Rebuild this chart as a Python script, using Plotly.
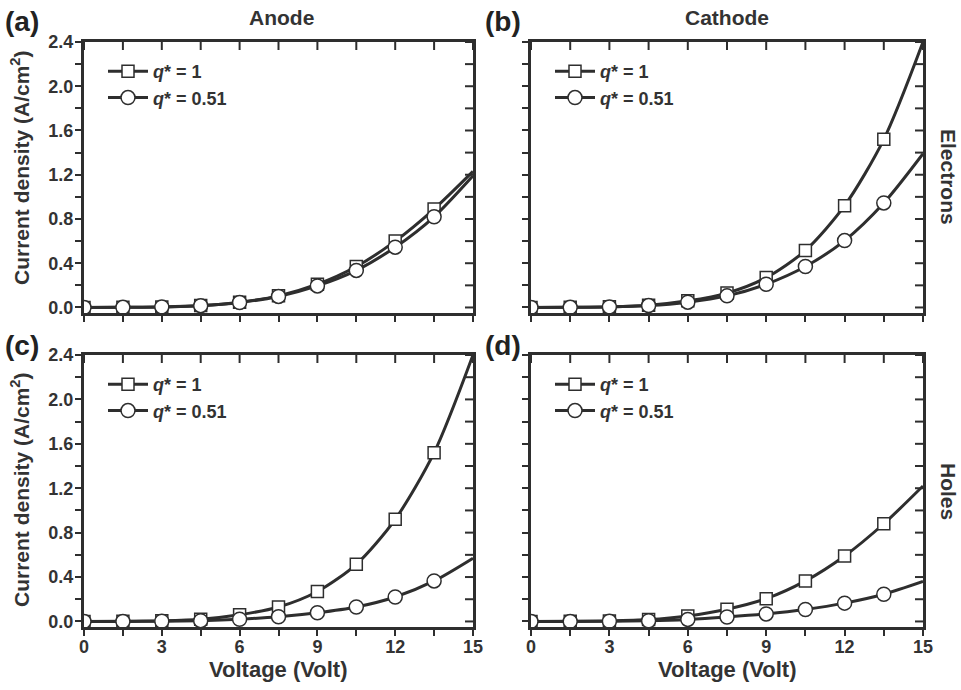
import plotly.graph_objects as go

# ---------------- data ----------------
voltage = [0, 1.5, 3, 4.5, 6, 7.5, 9, 10.5, 12, 13.5, 15]
n_markers = 10  # markers drawn at 0 ... 13.5

anode_electrons_q1 = [0, 0.001, 0.005, 0.017, 0.048, 0.105, 0.21, 0.37, 0.60, 0.89, 1.23]
anode_electrons_q051 = [0, 0.001, 0.005, 0.016, 0.045, 0.10, 0.195, 0.335, 0.545, 0.82, 1.19]
cathode_electrons_q1 = [0, 0.001, 0.006, 0.020, 0.060, 0.13, 0.27, 0.515, 0.92, 1.52, 2.40]
cathode_electrons_q051 = [0, 0.001, 0.005, 0.017, 0.048, 0.105, 0.21, 0.37, 0.605, 0.945, 1.39]
anode_holes_q1 = [0, 0.001, 0.006, 0.020, 0.060, 0.13, 0.27, 0.515, 0.92, 1.52, 2.40]
anode_holes_q051 = [0, 0.0, 0.002, 0.007, 0.020, 0.042, 0.078, 0.13, 0.22, 0.365, 0.57]
cathode_holes_q1 = [0, 0.001, 0.005, 0.017, 0.050, 0.11, 0.205, 0.365, 0.59, 0.88, 1.22]
cathode_holes_q051 = [0, 0.0, 0.002, 0.006, 0.018, 0.040, 0.068, 0.108, 0.165, 0.245, 0.36]

series_names = ["<i>q</i>* = 1", "<i>q</i>* = 0.51"]
panel_labels = ["(a)", "(b)", "(c)", "(d)"]
column_titles = ["Anode", "Cathode"]
row_titles = ["Electrons", "Holes"]
x_title = "Voltage (Volt)"
y_title = "Current density (A/cm<sup>2</sup>)"
x_ticks = [0, 3, 6, 9, 12, 15]
x_minor_ticks = [0, 1.5, 3, 4.5, 6, 7.5, 9, 10.5, 12, 13.5, 15]
y_ticks = [0.0, 0.4, 0.8, 1.2, 1.6, 2.0, 2.4]
y_minor_ticks = [0.0, 0.2, 0.4, 0.6, 0.8, 1.0, 1.2, 1.4, 1.6, 1.8, 2.0, 2.2, 2.4]
x_range = [0, 15]
y_range = [-0.05, 2.4]

panels = [
    (anode_electrons_q1, anode_electrons_q051),
    (cathode_electrons_q1, cathode_electrons_q051),
    (anode_holes_q1, anode_holes_q051),
    (cathode_holes_q1, cathode_holes_q051),
]

# ---------------- layout geometry (page pixels) ----------------
W, H = 961, 690
col_px = [(84, 473), (531, 923)]
row_px = [(42, 313), (355, 627)]

def px_x(p):
    return p / W

def px_y(p):
    return 1 - p / H

INK = "#333333"
LINE = "#2e2e2e"
FONT = "Liberation Sans"
TICKLEN = 6
INNER_TICKLEN = 8

fig = go.Figure()

symbols = ["square", "circle"]
msizes = [12, 14]

for i, (s1, s2) in enumerate(panels):
    k = i + 1
    xs = "" if k == 1 else str(k)
    xa, ya = f"x{xs}", f"y{xs}"
    leg = f"legend{xs}"
    for j, ys in enumerate((s1, s2)):
        fig.add_trace(go.Scatter(
            x=voltage, y=ys, mode="lines", xaxis=xa, yaxis=ya,
            line=dict(color=LINE, width=3, shape="spline", smoothing=0.8),
            showlegend=False, hoverinfo="skip"))
        fig.add_trace(go.Scatter(
            x=voltage[:n_markers], y=ys[:n_markers], mode="markers", xaxis=xa, yaxis=ya,
            marker=dict(symbol=symbols[j], size=msizes[j], color="white",
                        line=dict(color=LINE, width=1.5)),
            showlegend=False))
    for j in range(2):
        fig.add_trace(go.Scatter(
            x=[None], y=[None], mode="lines+markers", xaxis=xa, yaxis=ya,
            name=series_names[j], legend=leg,
            line=dict(color=LINE, width=3),
            marker=dict(symbol=symbols[j], size=msizes[j], color="white",
                        line=dict(color=LINE, width=1.5))))

layout = dict(
    width=W, height=H,
    margin=dict(l=0, r=0, t=0, b=0),
    paper_bgcolor="white", plot_bgcolor="white",
    font=dict(family=FONT, color=INK, size=18, weight="bold"),
    showlegend=True,
)

tickfont = dict(family=FONT, color=INK, size=18, weight="bold")
shapes = []

for i in range(4):
    k = i + 1
    r, c = divmod(i, 2)
    xs = "" if k == 1 else str(k)
    x0, x1 = col_px[c]
    y0, y1 = row_px[r]
    layout[f"xaxis{xs}"] = dict(
        range=x_range, domain=[px_x(x0), px_x(x1)], showgrid=False, zeroline=False,
        automargin=False, fixedrange=True,
        anchor=f"y{xs}", showline=True, mirror=True, linewidth=3,
        linecolor=LINE, ticks="outside", tickmode="array", tickvals=x_ticks,
        ticklen=TICKLEN, tickwidth=2, tickcolor=LINE, ticklabelstandoff=-5,
        minor=dict(tickmode="array", tickvals=x_minor_ticks, ticks="outside",
                   ticklen=TICKLEN, tickwidth=2, tickcolor=LINE, showgrid=False),
        showticklabels=(r == 1), tickfont=tickfont)
    layout[f"yaxis{xs}"] = dict(
        range=y_range, domain=[px_y(y1), px_y(y0)], showgrid=False, zeroline=False,
        automargin=False, fixedrange=True,
        anchor=f"x{xs}", showline=True, mirror=True, linewidth=3,
        linecolor=LINE, ticks="outside", tickmode="array", tickvals=y_ticks,
        tickformat=".1f", ticklen=TICKLEN, tickwidth=2, tickcolor=LINE,
        ticklabelstandoff=-2,
        minor=dict(tickmode="array", tickvals=y_minor_ticks, ticks="outside",
                   ticklen=TICKLEN, tickwidth=2, tickcolor=LINE, showgrid=False),
        showticklabels=(c == 0), tickfont=tickfont)
    # inward ticks along the top and right frame edges
    for v in x_minor_ticks:
        shapes.append(dict(type="line", xref=f"x{xs}", yref=f"y{xs}",
                           x0=v, x1=v, ysizemode="pixel", yanchor=y_range[1],
                           y0=0, y1=-INNER_TICKLEN, line=dict(color=LINE, width=2)))
    for t in y_minor_ticks:
        shapes.append(dict(type="line", xref=f"x{xs}", yref=f"y{xs}",
                           y0=t, y1=t, xsizemode="pixel", xanchor=x_range[1],
                           x0=0, x1=-INNER_TICKLEN, line=dict(color=LINE, width=2)))
    # legend
    layout[f"legend{xs}"] = dict(
        x=px_x(x0 + 19), y=px_y(y0 + 11), xanchor="left", yanchor="top",
        xref="paper", yref="paper", bgcolor="rgba(0,0,0,0)",
        font=dict(family=FONT, color=INK, size=18, weight="bold"),
        itemwidth=40, tracegroupgap=0)

layout["shapes"] = shapes
fig.update_layout(**layout)

ann = []
pl_pos = [(4, 22), (484, 22), (4, 345), (484, 345)]
for lab, (px, py) in zip(panel_labels, pl_pos):
    ann.append(dict(text=lab, x=px_x(px), y=px_y(py), xref="paper", yref="paper",
                    xanchor="left", yanchor="middle", showarrow=False, borderpad=0,
                    font=dict(family=FONT, size=28, color="#222222", weight="bold")))
for t, cx in zip(column_titles, [281, 727]):
    ann.append(dict(text=t, x=px_x(cx), y=px_y(18), xref="paper", yref="paper",
                    xanchor="center", yanchor="middle", showarrow=False, borderpad=0,
                    font=dict(family=FONT, size=21, color=INK, weight="bold")))
for t, cy in zip(row_titles, [177, 491]):
    ann.append(dict(text=t, x=px_x(949), y=px_y(cy), xref="paper", yref="paper",
                    xanchor="center", yanchor="middle", showarrow=False, textangle=90,
                    borderpad=0,
                    font=dict(family=FONT, size=21, color=INK, weight="bold")))
for cx in [(84 + 473) / 2, (531 + 923) / 2]:
    ann.append(dict(text=x_title, x=px_x(cx), y=px_y(669), xref="paper", yref="paper",
                    xanchor="center", yanchor="middle", showarrow=False, borderpad=0,
                    font=dict(family=FONT, size=22, color=INK, weight="bold")))
for cy in [168, 490]:
    ann.append(dict(text=y_title, x=px_x(20), y=px_y(cy), xref="paper", yref="paper",
                    xanchor="center", yanchor="middle", showarrow=False, textangle=-90,
                    borderpad=0,
                    font=dict(family=FONT, size=21, color=INK, weight="bold")))
fig.update_layout(annotations=ann)

fig.write_html("out.html", config={"displayModeBar": False},
               post_script="document.body.style.margin='0';")
